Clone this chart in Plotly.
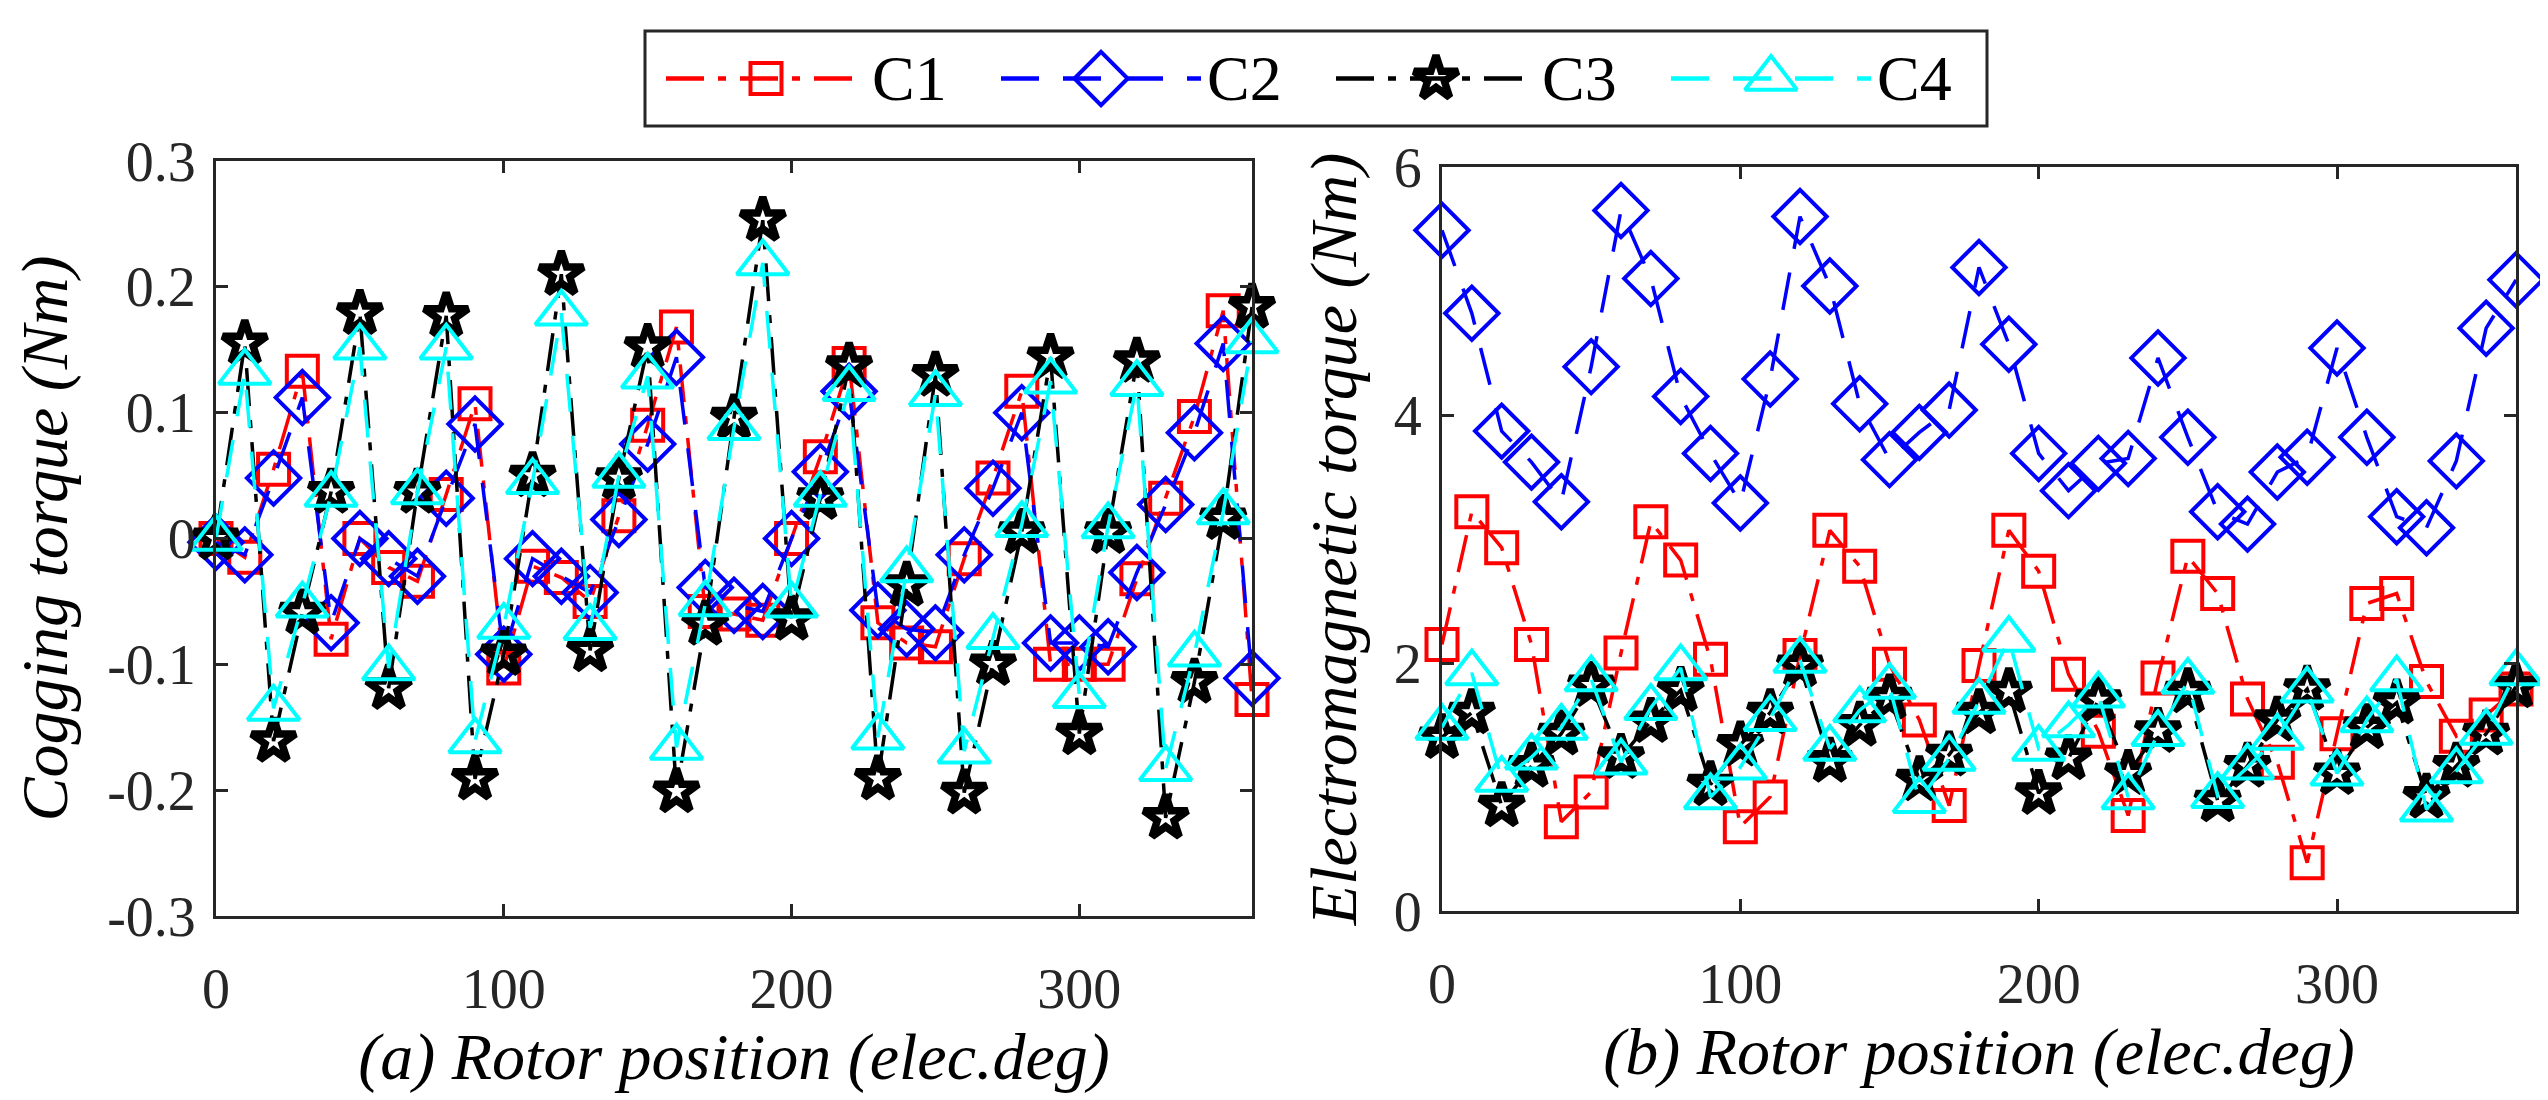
import plotly.graph_objects as go

# ---------------- data ----------------
angle = list(range(0, 361, 10))  # rotor position (elec.deg)
series_names = ["C1", "C2", "C3", "C4"]

# (a) cogging torque (Nm)
cog_c1 = [0.0, -0.015, 0.055, 0.133, -0.080, 0.0, -0.023, -0.034, 0.035, 0.107,
          -0.103, -0.022, -0.031, -0.050, 0.018, 0.090, 0.168, -0.058, -0.060, -0.065,
          0.0, 0.065, 0.139, -0.067, -0.083, -0.086, -0.016, 0.048, 0.117, -0.100,
          -0.100, -0.100, -0.032, 0.032, 0.097, 0.181, -0.128]
cog_c2 = [-0.003, -0.013, 0.048, 0.112, -0.067, 0.0, -0.016, -0.030, 0.032, 0.091,
          -0.092, -0.016, -0.030, -0.043, 0.015, 0.075, 0.144, -0.039, -0.053, -0.058,
          0.0, 0.053, 0.117, -0.057, -0.072, -0.075, -0.013, 0.040, 0.100, -0.083,
          -0.083, -0.086, -0.027, 0.027, 0.084, 0.155, -0.111]
cog_c3 = [0.0, 0.155, -0.161, -0.059, 0.037, 0.179, -0.119, 0.037, 0.177, -0.191,
          -0.092, 0.050, 0.210, -0.089, 0.048, 0.152, -0.201, -0.068, 0.096, 0.253,
          -0.064, 0.032, 0.137, -0.191, -0.037, 0.130, -0.202, -0.100, 0.005, 0.144,
          -0.155, 0.005, 0.141, -0.222, -0.114, 0.016, 0.184]
cog_c4 = [0.0, 0.132, -0.135, -0.053, 0.035, 0.152, -0.103, 0.037, 0.152, -0.161,
          -0.070, 0.045, 0.179, -0.071, 0.050, 0.129, -0.166, -0.052, 0.088, 0.219,
          -0.053, 0.035, 0.119, -0.158, -0.025, 0.115, -0.169, -0.078, 0.011, 0.125,
          -0.125, 0.010, 0.123, -0.183, -0.092, 0.021, 0.157]

# (b) electromagnetic torque (Nm)
em_c1 = [2.15, 3.22, 2.93, 2.15, 0.72, 0.96, 2.08, 3.14, 2.83, 2.03,
         0.68, 0.92, 2.06, 3.07, 2.78, 1.99, 1.54, 0.85, 1.98, 3.07,
         2.74, 1.91, 1.45, 0.77, 1.88, 2.86, 2.56, 1.71, 1.20, 0.39,
         1.43, 2.48, 2.56, 1.85, 1.41, 1.58, 1.79]
em_c2 = [5.49, 4.82, 3.87, 3.62, 3.30, 4.39, 5.65, 5.10, 4.15, 3.69,
         3.29, 4.29, 5.60, 5.04, 4.09, 3.64, 3.86, 4.04, 5.19, 4.57,
         3.69, 3.39, 3.61, 3.65, 4.46, 3.82, 3.22, 3.12, 3.54, 3.66,
         4.54, 3.82, 3.18, 3.09, 3.63, 4.70, 5.09]
em_c3 = [1.40, 1.60, 0.85, 1.17, 1.43, 1.82, 1.24, 1.53, 1.78, 1.02,
         1.34, 1.60, 1.98, 1.21, 1.50, 1.72, 1.06, 1.26, 1.60, 1.77,
         0.95, 1.23, 1.70, 1.11, 1.45, 1.77, 0.89, 1.17, 1.54, 1.79,
         1.11, 1.48, 1.68, 0.92, 1.17, 1.43, 1.81]
em_c4 = [1.48, 1.92, 1.06, 1.24, 1.48, 1.87, 1.20, 1.64, 1.96, 0.92,
         1.16, 1.55, 2.02, 1.31, 1.62, 1.81, 0.89, 1.23, 1.69, 2.19,
         1.31, 1.50, 1.74, 0.92, 1.43, 1.85, 0.93, 1.16, 1.40, 1.78,
         1.11, 1.54, 1.87, 0.82, 1.13, 1.44, 1.92]

x_tick_vals = [0, 100, 200, 300]
x_tick_text = ["0", "100", "200", "300"]
cog_tick_vals = [-0.3, -0.2, -0.1, 0, 0.1, 0.2, 0.3]
cog_tick_text = ["-0.3", "-0.2", "-0.1", "0", "0.1", "0.2", "0.3"]
em_tick_vals = [0, 2, 4, 6]
em_tick_text = ["0", "2", "4", "6"]

x_title_a = "<i>(a) Rotor position (elec.deg)</i>"
x_title_b = "<i>(b) Rotor position (elec.deg)</i>"
y_title_a = "<i>Cogging torque (Nm)</i>"
y_title_b = "<i>Electromagnetic torque (Nm)</i>"

# ---------------- styles ----------------
W, H = 2548, 1100
FONT = "Liberation Serif"
AX = "#262626"
DASHDOT = "38px,14px,8px,14px"
DASH = "38px,24px"
styles = {
    "C1": dict(color="#FF0000", dash=DASHDOT, symbol="square-open", size=31),
    "C2": dict(color="#0000FF", dash=DASH, symbol="diamond-open", size=41),
    "C3": dict(color="#000000", dash=DASHDOT, symbol="star-open", size=33),
    "C4": dict(color="#00FFFF", dash=DASH, symbol="triangle-up-open", size=45),
}
LW = 3.5
MLW = {"C1": 4, "C2": 4, "C3": 7.5, "C4": 4}

cog = dict(zip(series_names, [cog_c1, cog_c2, cog_c3, cog_c4]))
em = dict(zip(series_names, [em_c1, em_c2, em_c3, em_c4]))

fig = go.Figure()


def add_series(name, ys, xa, ya):
    s = styles[name]
    fig.add_trace(go.Scatter(
        x=angle, y=ys, name=name, mode="lines+markers", xaxis=xa, yaxis=ya,
        showlegend=False, cliponaxis=False,
        line=dict(color=s["color"], width=LW, dash=s["dash"]),
        marker=dict(symbol=s["symbol"], size=s["size"], color=s["color"],
                    line=dict(color=s["color"], width=MLW[name])),
    ))


for n in series_names:
    add_series(n, cog[n], "x", "y")
for n in series_names:
    add_series(n, em[n], "x2", "y2")

# ---------------- custom legend (layout only) ----------------
LEG_X0, LEG_X1, LEG_Y0, LEG_Y1 = 637, 1979, 23, 118
LEG_FIRST, LEG_STEP, LEG_HALF, LEG_TXT = 758, 335, 100, 104
for i, n in enumerate(series_names):
    s = styles[n]
    c = LEG_FIRST + i * LEG_STEP
    fig.add_trace(go.Scatter(
        x=[c - LEG_HALF, c + LEG_HALF], y=[0.5, 0.5], mode="lines", xaxis="x3", yaxis="y3",
        showlegend=False, hoverinfo="skip", cliponaxis=False,
        line=dict(color=s["color"], width=LW + 1, dash=s["dash"])))
    fig.add_trace(go.Scatter(
        x=[c], y=[0.5], mode="markers", xaxis="x3", yaxis="y3",
        showlegend=False, hoverinfo="skip", cliponaxis=False,
        marker=dict(symbol=s["symbol"], size=s["size"], color=s["color"],
                    line=dict(color=s["color"], width=MLW[n]))))
    fig.add_annotation(x=c + LEG_TXT, y=0.5, xref="x3", yref="y3", text=n,
                       showarrow=False, xanchor="left", yanchor="middle",
                       font=dict(family=FONT, size=64, color="black"))

fig.add_shape(type="rect", xref="paper", yref="paper",
              x0=LEG_X0 / W, x1=LEG_X1 / W, y0=1 - LEG_Y1 / H, y1=1 - LEG_Y0 / H,
              line=dict(color=AX, width=3), fillcolor="rgba(0,0,0,0)", layer="below")

tick_font = dict(family=FONT, size=56, color=AX)
title_font = dict(family=FONT, size=66, color="black")
common = dict(showline=True, linecolor=AX, linewidth=3, mirror="ticks", ticks="inside",
              ticklen=12, tickwidth=3, tickcolor=AX, showgrid=False, zeroline=False,
              tickfont=tick_font, automargin=False)

fig.update_layout(
    width=W, height=H, margin=dict(l=0, r=0, t=0, b=0),
    paper_bgcolor="white", plot_bgcolor="white", showlegend=False,
    font=dict(family=FONT),
    xaxis=dict(domain=[208 / W, 1244 / W], range=[0, 360], tickvals=x_tick_vals,
               ticktext=x_tick_text, anchor="y", ticklabelstandoff=22,
               title=dict(text=x_title_a, font=title_font, standoff=6), **common),
    yaxis=dict(domain=[1 - 908 / H, 1 - 153 / H], range=[-0.3, 0.3], tickvals=cog_tick_vals,
               ticktext=cog_tick_text, anchor="x", ticklabelstandoff=6,
               title=dict(text=y_title_a, font=title_font, standoff=22), **common),
    xaxis2=dict(domain=[1434 / W, 2508 / W], range=[0, 360], tickvals=x_tick_vals,
                ticktext=x_tick_text, anchor="y2", ticklabelstandoff=22,
                title=dict(text=x_title_b, font=title_font, standoff=6), **common),
    yaxis2=dict(domain=[1 - 903 / H, 1 - 159 / H], range=[0, 6], tickvals=em_tick_vals,
                ticktext=em_tick_text, anchor="x2", ticklabelstandoff=6,
                title=dict(text=y_title_b, font=title_font, standoff=16), **common),
    xaxis3=dict(domain=[LEG_X0 / W, LEG_X1 / W], range=[LEG_X0, LEG_X1], visible=False,
                anchor="y3", fixedrange=True),
    yaxis3=dict(domain=[1 - LEG_Y1 / H, 1 - LEG_Y0 / H], range=[0, 1], visible=False,
                anchor="x3", fixedrange=True),
)

fig.write_html("out.html")
